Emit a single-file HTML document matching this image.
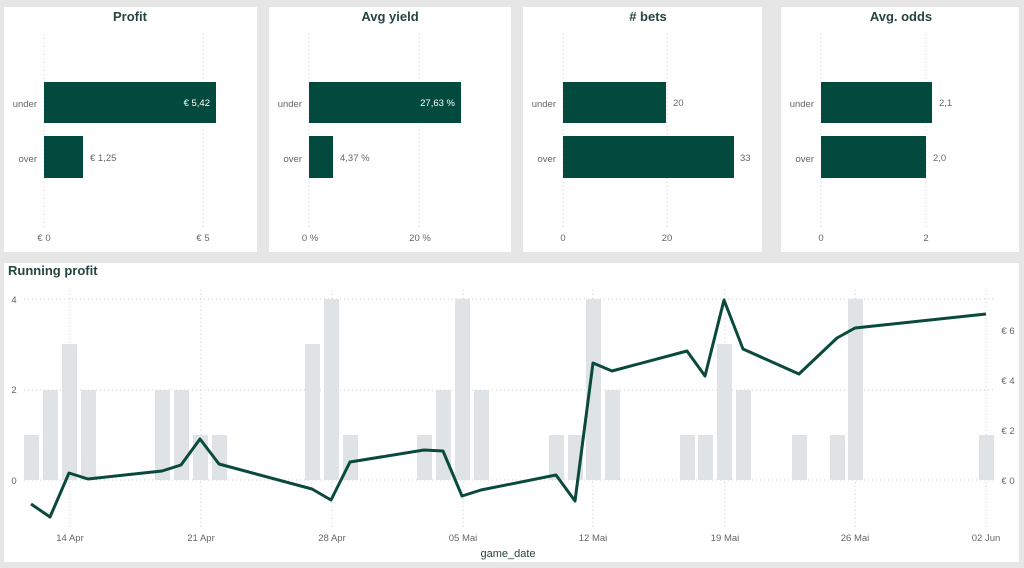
<!DOCTYPE html>
<html><head><meta charset="utf-8"><style>
html,body{margin:0;padding:0;background:#e6e6e6;}
svg{display:block;font-family:"Liberation Sans","DejaVu Sans",sans-serif;}
.t{font-size:13px;fill:#254540;font-weight:bold;}
.l{font-size:9.5px;fill:#666;}
.g{stroke:#ccc;stroke-width:1;stroke-dasharray:1,3;}
</style></head><body>
<svg width="1024" height="568" viewBox="0 0 1024 568">
<rect width="1024" height="568" fill="#e6e6e6"/>
<rect x="4" y="7" width="253" height="245" fill="#fff"/>
<rect x="269" y="7" width="242" height="245" fill="#fff"/>
<rect x="523" y="7" width="239" height="245" fill="#fff"/>
<rect x="781" y="7" width="238" height="245" fill="#fff"/>
<rect x="4" y="263" width="1015" height="299" fill="#fff"/>

<!-- Panel 1 -->
<text class="t" x="130" y="21" text-anchor="middle">Profit</text>
<line class="g" x1="44" y1="34" x2="44" y2="228"/><line class="g" x1="203" y1="34" x2="203" y2="228"/>
<rect x="44" y="82" width="172" height="41" fill="#034a3e"/>
<rect x="44" y="136" width="39" height="42" fill="#034a3e"/>
<text class="l" x="37" y="107" text-anchor="end">under</text>
<text class="l" x="37" y="162" text-anchor="end">over</text>
<text class="l" x="210" y="106" text-anchor="end" fill="#fff" style="fill:#fff">€ 5,42</text>
<text class="l" x="90" y="161">€ 1,25</text>
<text class="l" x="44" y="241" text-anchor="middle">€ 0</text>
<text class="l" x="203" y="241" text-anchor="middle">€ 5</text>

<!-- Panel 2 -->
<text class="t" x="390" y="21" text-anchor="middle">Avg yield</text>
<line class="g" x1="309" y1="34" x2="309" y2="228"/><line class="g" x1="419" y1="34" x2="419" y2="228"/>
<rect x="309" y="82" width="152" height="41" fill="#034a3e"/>
<rect x="309" y="136" width="24" height="42" fill="#034a3e"/>
<text class="l" x="302" y="107" text-anchor="end">under</text>
<text class="l" x="302" y="162" text-anchor="end">over</text>
<text class="l" x="455" y="106" text-anchor="end" style="fill:#fff">27,63 %</text>
<text class="l" x="340" y="161">4,37 %</text>
<text class="l" x="310" y="241" text-anchor="middle">0 %</text>
<text class="l" x="420" y="241" text-anchor="middle">20 %</text>

<!-- Panel 3 -->
<text class="t" x="648" y="21" text-anchor="middle"># bets</text>
<line class="g" x1="563" y1="34" x2="563" y2="228"/><line class="g" x1="667" y1="34" x2="667" y2="228"/>
<rect x="563" y="82" width="103" height="41" fill="#034a3e"/>
<rect x="563" y="136" width="171" height="42" fill="#034a3e"/>
<text class="l" x="556" y="107" text-anchor="end">under</text>
<text class="l" x="556" y="162" text-anchor="end">over</text>
<text class="l" x="673" y="106">20</text>
<text class="l" x="740" y="161">33</text>
<text class="l" x="563" y="241" text-anchor="middle">0</text>
<text class="l" x="667" y="241" text-anchor="middle">20</text>

<!-- Panel 4 -->
<text class="t" x="901" y="21" text-anchor="middle">Avg. odds</text>
<line class="g" x1="821" y1="34" x2="821" y2="228"/><line class="g" x1="926" y1="34" x2="926" y2="228"/>
<rect x="821" y="82" width="111" height="41" fill="#034a3e"/>
<rect x="821" y="136" width="105" height="42" fill="#034a3e"/>
<text class="l" x="814" y="107" text-anchor="end">under</text>
<text class="l" x="814" y="162" text-anchor="end">over</text>
<text class="l" x="939" y="106">2,1</text>
<text class="l" x="933" y="161">2,0</text>
<text class="l" x="821" y="241" text-anchor="middle">0</text>
<text class="l" x="926" y="241" text-anchor="middle">2</text>

<!-- Bottom -->
<text class="t" x="8" y="275" text-anchor="start">Running profit</text>
<g>
<line class="g" x1="24" y1="299" x2="995" y2="299"/>
<line class="g" x1="24" y1="390" x2="995" y2="390"/>
<line class="g" x1="24" y1="480" x2="995" y2="480"/>
<line class="g" x1="70" y1="290" x2="70" y2="530"/>
<line class="g" x1="201" y1="290" x2="201" y2="530"/>
<line class="g" x1="332" y1="290" x2="332" y2="530"/>
<line class="g" x1="463" y1="290" x2="463" y2="530"/>
<line class="g" x1="593" y1="290" x2="593" y2="530"/>
<line class="g" x1="725" y1="290" x2="725" y2="530"/>
<line class="g" x1="855" y1="290" x2="855" y2="530"/>
<line class="g" x1="986" y1="290" x2="986" y2="530"/>
</g>
<g fill="#dfe3e5">
<rect x="24" y="435" width="15" height="45"/>
<rect x="43" y="390" width="15" height="90"/>
<rect x="62" y="344" width="15" height="136"/>
<rect x="81" y="390" width="15" height="90"/>
<rect x="155" y="390" width="15" height="90"/>
<rect x="174" y="390" width="15" height="90"/>
<rect x="193" y="435" width="15" height="45"/>
<rect x="212" y="435" width="15" height="45"/>
<rect x="305" y="344" width="15" height="136"/>
<rect x="324" y="299" width="15" height="181"/>
<rect x="343" y="435" width="15" height="45"/>
<rect x="417" y="435" width="15" height="45"/>
<rect x="436" y="390" width="15" height="90"/>
<rect x="455" y="299" width="15" height="181"/>
<rect x="474" y="390" width="15" height="90"/>
<rect x="549" y="435" width="15" height="45"/>
<rect x="568" y="435" width="15" height="45"/>
<rect x="586" y="299" width="15" height="181"/>
<rect x="605" y="390" width="15" height="90"/>
<rect x="680" y="435" width="15" height="45"/>
<rect x="698" y="435" width="15" height="45"/>
<rect x="717" y="344" width="15" height="136"/>
<rect x="736" y="390" width="15" height="90"/>
<rect x="792" y="435" width="15" height="45"/>
<rect x="830" y="435" width="15" height="45"/>
<rect x="848" y="299" width="15" height="181"/>
<rect x="979" y="435" width="15" height="45"/>
</g>
<polyline fill="none" stroke="#0a4a3d" stroke-width="3" stroke-linejoin="round" points="31,504 50,517 69,473 88,479 162,471 181,465 200,439 219,464 312,489 331,500 350,462 424,450 443,451 462,496 481,490 556,475 575,501 593,363 612,371 687,351 705,376 724,300 743,349 799,374 837,338 855,328 986,314"/>
<g class="l">
<text x="14" y="303" text-anchor="middle">4</text>
<text x="14" y="393" text-anchor="middle">2</text>
<text x="14" y="484" text-anchor="middle">0</text>
<text x="1008" y="334" text-anchor="middle">€ 6</text>
<text x="1008" y="384" text-anchor="middle">€ 4</text>
<text x="1008" y="434" text-anchor="middle">€ 2</text>
<text x="1008" y="484" text-anchor="middle">€ 0</text>
<text x="70" y="541" text-anchor="middle">14 Apr</text>
<text x="201" y="541" text-anchor="middle">21 Apr</text>
<text x="332" y="541" text-anchor="middle">28 Apr</text>
<text x="463" y="541" text-anchor="middle">05 Mai</text>
<text x="593" y="541" text-anchor="middle">12 Mai</text>
<text x="725" y="541" text-anchor="middle">19 Mai</text>
<text x="855" y="541" text-anchor="middle">26 Mai</text>
<text x="986" y="541" text-anchor="middle">02 Jun</text>
</g>
<text x="508" y="557" text-anchor="middle" style="font-size:11px;fill:#254540">game_date</text>
</svg>
</body></html>
